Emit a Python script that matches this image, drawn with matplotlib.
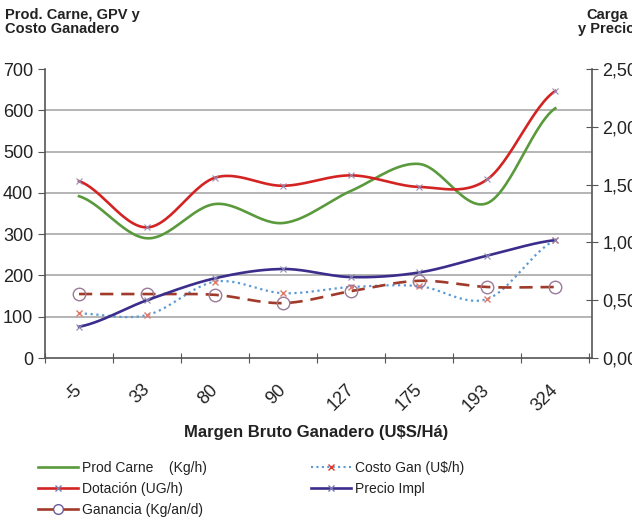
import numpy as np
import matplotlib
matplotlib.use("Agg")
import matplotlib.pyplot as plt
from matplotlib.lines import Line2D
from matplotlib.ticker import FuncFormatter

plt.rcParams['font.family'] = ['Liberation Sans', 'DejaVu Sans']

# categories (margen bruto, U$S/Ha)
categorias = ['-5', '33', '80', '90', '127', '175', '193', '324']

# left axis series
prod_carne = [392, 290, 373, 327, 405, 470, 375, 605]
costo_gan = [108, 104, 185, 157, 172, 174, 143, 285]
ganancia = [155, 155, 153, 133, 162, 187, 172, 172]

# right axis series
dotacion = [1.53, 1.13, 1.56, 1.49, 1.58, 1.48, 1.545, 2.31]
precio_impl = [0.27, 0.50, 0.69, 0.77, 0.70, 0.74, 0.885, 1.02]


def smooth(y, n=30):
    # excel-like smoothed line (catmull-rom through the points)
    y = np.asarray(y, float)
    x = np.arange(len(y), dtype=float)
    xs, ys = [], []
    for i in range(len(y) - 1):
        y0 = y[i - 1] if i > 0 else y[i]
        y3 = y[i + 2] if i + 2 < len(y) else y[i + 1]
        c1 = y[i] + (y[i + 1] - y0) / 6
        c2 = y[i + 1] - (y3 - y[i]) / 6
        t = np.linspace(0, 1, n)
        b = ((1 - t) ** 3) * y[i] + 3 * ((1 - t) ** 2) * t * c1 + 3 * (1 - t) * t ** 2 * c2 + t ** 3 * y[i + 1]
        xs.append(x[i] + t)
        ys.append(b)
    return np.concatenate(xs), np.concatenate(ys)


fig = plt.figure(figsize=(6.32, 5.19), dpi=100)
ax = fig.add_axes([0.0712, 0.3102, 0.8655, 0.5568])
ax2 = ax.twinx()

x = np.arange(len(categorias))

verde = '#5a9a3c'
rojo = '#d42323'
azul = '#3b2d8c'
celeste = '#5b9bd5'
marron = '#a03a2a'

# left axis
xs, ys = smooth(prod_carne)
ax.plot(xs, ys, color=verde, lw=1.9)

xs, ys = smooth(costo_gan)
ax.plot(xs, ys, color=celeste, lw=1.6, ls=(0, (1, 1.6)))
ax.plot(x, costo_gan, ls='none', marker='x', ms=5, mew=1, color='#e07a6a')

xs, ys = smooth(ganancia)
ax.plot(xs, ys, color=marron, lw=1.9, ls=(0, (5, 3)))
ax.plot(x, ganancia, ls='none', marker='o', ms=9, mfc='none', mec='#9a7a9a', mew=1)

# right axis
xs, ys = smooth(dotacion)
ax2.plot(xs, ys, color=rojo, lw=1.9)
ax2.plot(x, dotacion, ls='none', marker='x', ms=4, mew=0.8, color='#9a8ab0')

xs, ys = smooth(precio_impl)
ax2.plot(xs, ys, color=azul, lw=1.9)
ax2.plot(x, precio_impl, ls='none', marker='x', ms=4, mew=0.8, color='#8a8ab0')

ax.set_xlim(-0.5, 7.54)
ax.set_ylim(0, 700)
ax2.set_ylim(0, 2.5)
ax.set_yticks(range(0, 701, 100))
ax2.set_yticks(np.arange(0, 2.51, 0.5))
ax2.yaxis.set_major_formatter(FuncFormatter(lambda v, p: ('%.2f' % v).replace('.', ',')))

ax.set_xticks(np.arange(-0.5, 8, 1))
ax.set_xticklabels([])
ax.set_xticks(x, minor=True)
ax.set_xticklabels(categorias, minor=True, rotation=45, ha='right', va='center',
                   rotation_mode='anchor', fontsize=13, color='#222222')
ax.tick_params(axis='x', which='minor', length=0, pad=21)
ax.tick_params(axis='x', which='major', direction='inout', length=7, color='#555555')

ax.tick_params(axis='y', direction='out', length=5, labelsize=13, color='#555555', labelcolor='#222222')
ax2.tick_params(axis='y', direction='inout', length=8, labelsize=13, color='#555555', labelcolor='#222222')

for i in range(100, 700, 100):
    ax.axhline(i, color='#a8a8a8', lw=1.2, zorder=0)

ax.spines['top'].set_visible(False)
ax2.spines['top'].set_visible(False)
ax.spines['right'].set_visible(False)
ax.spines['left'].set_color('#555555')
ax.spines['bottom'].set_color('#555555')
ax2.spines['left'].set_visible(False)
ax2.spines['bottom'].set_visible(False)
ax2.spines['right'].set_color('#555555')
ax.spines['left'].set_linewidth(1.2)
ax.spines['bottom'].set_linewidth(1.2)
ax2.spines['right'].set_linewidth(1.2)

fig.text(0.008, 0.985, 'Prod. Carne, GPV y\nCosto Ganadero', fontsize=10.5, fontweight='bold',
         ha='left', va='top', color='#222222', linespacing=1.05)
fig.text(0.96, 0.985, 'Carga\ny Precio', fontsize=10.5, fontweight='bold',
         ha='center', va='top', multialignment='center', color='#222222', linespacing=1.05)

fig.text(0.5, 0.166, 'Margen Bruto Ganadero (U$S/Há)', fontsize=12, fontweight='bold',
         ha='center', va='center', color='#222222')

h1 = [
    Line2D([], [], color=verde, lw=1.9),
    Line2D([], [], color=rojo, lw=1.9, marker='x', ms=4, mec='#7a7ab0'),
    Line2D([], [], color=marron, lw=1.9, marker='o', ms=7, mfc='white', mec='#6a5a9a'),
]
l1 = ['Prod Carne    (Kg/h)', 'Dotación (UG/h)', 'Ganancia (Kg/an/d)']
h2 = [
    Line2D([], [], color=celeste, lw=1.5, ls=(0, (1, 1.6)), marker='x', ms=5, mec='#e03a2a'),
    Line2D([], [], color=azul, lw=1.9, marker='x', ms=4, mec='#7a7ab0'),
]
l2 = ['Costo Gan (U$/h)', 'Precio Impl']

leg_kw = dict(loc='upper left', frameon=False, fontsize=10, handlelength=2.9,
              handletextpad=0.3, labelspacing=0.5, borderaxespad=0, borderpad=0)
leg1 = fig.legend(h1, l1, bbox_to_anchor=(38 / 632, 0.112), **leg_kw)
for t in leg1.get_texts():
    t.set_color('#222222')
leg2 = fig.legend(h2, l2, bbox_to_anchor=(311 / 632, 0.112), **leg_kw)
for t in leg2.get_texts():
    t.set_color('#222222')

fig.savefig('out.png', dpi=100)
